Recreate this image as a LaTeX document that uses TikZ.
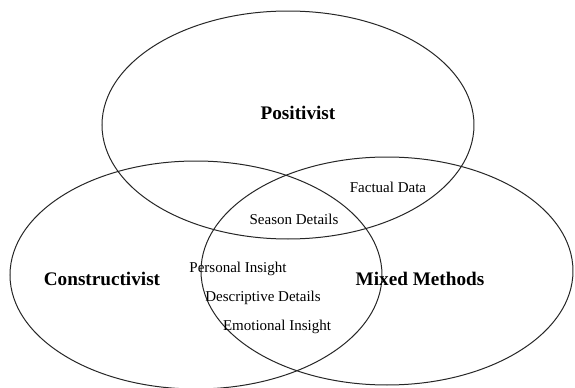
\documentclass[tikz,border=0pt]{standalone}
\usepackage{fontspec}
\setmainfont{Liberation Serif}
\usetikzlibrary{shapes.geometric,positioning}
\tikzset{%
	paradigm/.style = {draw, ellipse, line width=0.5pt, black!85, minimum width=186pt, minimum height=114pt, inner sep=0pt},
	heading/.style  = {font=\bfseries\fontsize{9.6}{11}\selectfont},
	finding/.style  = {font=\fontsize{7.5}{9}\selectfont},
}

\begin{document}
\begin{tikzpicture}[x=0.5pt,y=0.5pt]
		\useasboundingbox (0,0) rectangle (575,387);
		\node[paradigm] (pos) at (288,262) {};
		\node[paradigm] (con) at (196,112) {};
		\node[paradigm] (mix) at (387,116) {};
		
		\node[heading] (poslabel) at (298,274) {Positivist};
		\node[heading] (conlabel) at (102,108) {Constructivist};
		\node[heading] (mixlabel) at (420,108) {Mixed Methods};
		
		\node[finding] (factual) at (388,200) {Factual Data};
		\node[finding] (season) at (294,168) {Season Details};
		\node[finding] (personal) at (238,118) {Personal Insight};
		\node[finding] (descriptive) at (263,89) {Descriptive Details};
		\node[finding] (emotional) at (277,60) {Emotional Insight};
\end{tikzpicture}
\end{document}
